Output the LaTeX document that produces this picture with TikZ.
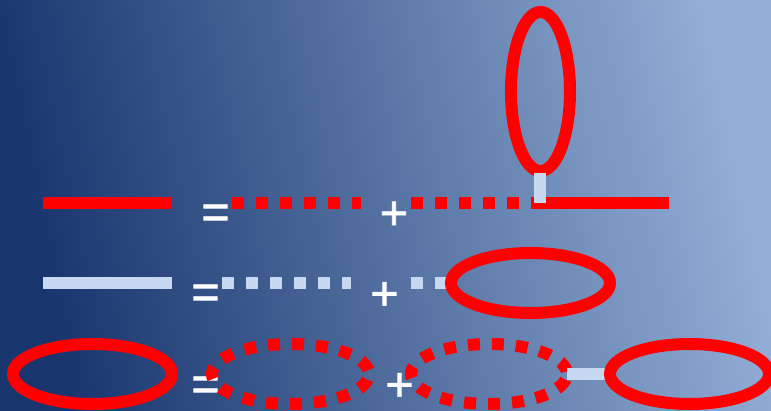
\documentclass[tikz,border=0pt]{standalone}
\usepackage{fontspec}
\setmainfont{Liberation Sans}
\newfontfamily\symfont[FakeBold=1.5]{Liberation Sans}
\definecolor{bgl}{RGB}{24,53,110}
\definecolor{bgr}{RGB}{146,174,214}
\definecolor{lightb}{RGB}{198,217,241}
\definecolor{lred}{RGB}{255,0,0}
\pgfdeclarehorizontalshading{bgshade}{100bp}{color(0bp)=(bgl); color(25bp)=(bgl); color(75bp)=(bgr); color(100bp)=(bgr)}
\tikzset{
  redline/.style={draw=lred, line width=12pt},
  blueline/.style={draw=lightb, line width=12pt},
  dots/.style={dash pattern=on 12pt off 12pt},
  ringdots/.style={dash pattern=on 12pt off 12pt, dash phase=18pt},
  sym/.style={text=white, font=\symfont\fontsize{48}{48}\selectfont, inner sep=0pt}
}
\begin{document}
\begin{tikzpicture}[x=1pt,y=-1pt]
\useasboundingbox (0,0) rectangle (771,411);
\shade[shading=bgshade, shading angle=12] (0,0) rectangle (771,411);

% row 1
\coordinate (a1) at (43,203);
\coordinate (a2) at (172,203);
\coordinate (b1) at (232,203);
\coordinate (b2) at (361,203);
\coordinate (c1) at (411,203);
\coordinate (c2) at (540,203);
\coordinate (c3) at (669,203);
\coordinate (v1) at (540,173);
\draw[redline] (a1) -- (a2);
\node[sym] (eq1) at (215.5,216.5) {=};
\draw[redline, dots] (b1) -- (b2);
\node[sym] (pl1) at (394,215.5) {+};
\draw[redline, dots] (c1) -- (c2);
\draw[redline] (c2) -- (c3);
\draw[redline] (540.5,91.5) ellipse [x radius=29.5, y radius=79.5];
\draw[blueline] (v1) -- (c2);

% row 2
\coordinate (d1) at (43,283.5);
\coordinate (d2) at (172,283.5);
\coordinate (e1) at (222,283.5);
\coordinate (e2) at (351,283.5);
\coordinate (f1) at (411,283.5);
\coordinate (f2) at (451,283.5);
\draw[blueline] (d1) -- (d2);
\node[sym] (eq2) at (205.5,296.5) {=};
\draw[blueline, dots] (e1) -- (e2);
\node[sym] (pl2) at (384.5,296) {+};
\draw[blueline, dots] (f1) -- (f2);
\draw[redline] (530.5,283) ellipse [x radius=79.5, y radius=30];

% row 3
\draw[redline] (92.5,374) ellipse [x radius=79.5, y radius=30];
\node[sym] (eq3) at (205.5,388.5) {=};
\draw[redline, ringdots] (290.5,374) ellipse [x radius=78.5, y radius=30];
\draw[redline, ringdots] (489,374) ellipse [x radius=78, y radius=30];
\coordinate (g1) at (567,374);
\coordinate (g2) at (610,374);
\draw[blueline] (g1) -- (g2);
\draw[redline] (689.5,374) ellipse [x radius=79.5, y radius=30];
\node[sym] (pl3) at (399.5,387) {+};
\end{tikzpicture}
\end{document}
